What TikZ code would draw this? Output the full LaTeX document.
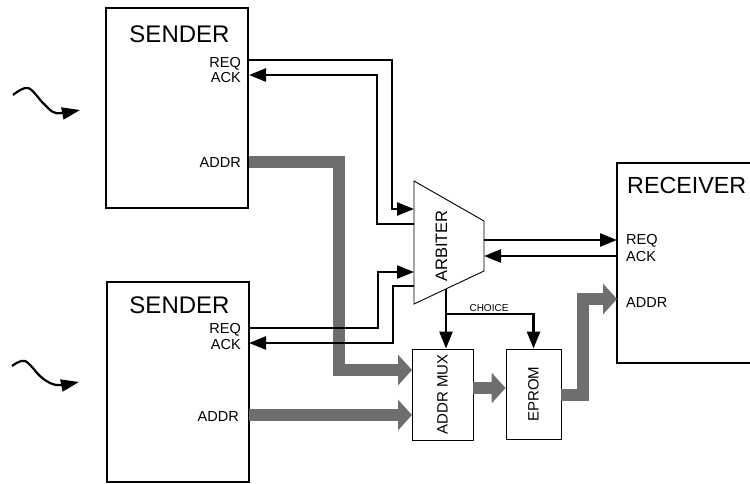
\documentclass[tikz,border=0pt]{standalone}
\usepackage{fontspec}
\setmainfont{Liberation Sans}
\usetikzlibrary{arrows.meta, positioning}

\definecolor{busgray}{RGB}{110,110,110}

\tikzset{
    blockbox/.style={draw, line width=2.4pt, minimum width=142pt, minimum height=200pt, inner sep=0pt},
    unitbox/.style={draw, line width=0.9pt, minimum width=61pt, minimum height=91pt, inner sep=0pt},
    boxtitle/.style={font=\fontsize{24}{24}\selectfont, inner sep=0pt},
    portlabel/.style={font=\fontsize{14.5}{14.5}\selectfont, inner sep=0pt},
    unitlabel/.style={font=\fontsize{15}{15}\selectfont, inner sep=0pt, rotate=90},
    sig/.style={line width=2.6pt, -{Triangle[length=17pt,width=13pt]}},
    wire/.style={line width=2.6pt},
    bus/.style={line width=12pt, draw=busgray, line join=miter, -{Triangle[length=14pt,width=30pt]}},
    wave/.style={line width=2.2pt, -{Triangle[length=18pt,width=12pt]}},
}

\begin{document}
\begin{tikzpicture}[x=1pt, y=-1pt]
    \clip (0,0) rectangle (750,483);

    % blocks
    \node[blockbox] (s1) at (177,108) {};
    \node[blockbox] (s2) at (178,382) {};
    \node[blockbox, minimum width=170pt] (rcv) at (702,263) {};
    \node[unitbox] (mux) at (442.5,394.5) {};
    \node[unitbox, minimum width=55pt, minimum height=90pt] (eprom) at (533.5,394) {};

    % arbiter
    \draw[line width=0.9pt] (414,181) -- (484,221) -- (484,271) -- (414,304) -- cycle;
    \node[font=\fontsize{16.5}{16.5}\selectfont, inner sep=0pt, rotate=90] (arb) at (441.5,246) {ARBITER};

    % labels
    \node[boxtitle, anchor=base] (s1title) at (179.5,42) {SENDER};
    \node[portlabel, anchor=base east] (s1reqlbl) at (241,67) {REQ};
    \node[portlabel, anchor=base east] (s1acklbl) at (241,82) {ACK};
    \node[portlabel, anchor=base east] (s1addrlbl) at (241,167) {ADDR};

    \node[boxtitle, anchor=base] (s2title) at (179.5,313) {SENDER};
    \node[portlabel, anchor=base east] (s2reqlbl) at (241,333) {REQ};
    \node[portlabel, anchor=base east] (s2acklbl) at (241,349) {ACK};
    \node[portlabel, anchor=base east] (s2addrlbl) at (239,421) {ADDR};

    \node[boxtitle, font=\fontsize{23.3}{24}\selectfont, anchor=base west] (rcvtitle) at (627,193) {RECEIVER};
    \node[portlabel, anchor=base west] (rcvreqlbl) at (626,244) {REQ};
    \node[portlabel, anchor=base west] (rcvacklbl) at (626,261) {ACK};
    \node[portlabel, anchor=base west] (rcvaddrlbl) at (626,307) {ADDR};

    \node[unitlabel] (muxlbl) at (mux) {ADDR MUX};
    \node[unitlabel] (epromlbl) at (eprom) {EPROM};

    % ports
    \coordinate (s1req) at (249,60);
    \coordinate (s1ack) at (249,75);
    \coordinate (s1addr) at (249,162);
    \coordinate (s2req) at (249,328);
    \coordinate (s2ack) at (249,343);
    \coordinate (s2addr) at (249,415);
    \coordinate (arbreq1) at (414,209);
    \coordinate (arback1) at (414,224);
    \coordinate (arbreq2) at (414,272);
    \coordinate (arback2) at (414,286);
    \coordinate (arbreqout) at (484,240);
    \coordinate (arbackout) at (484,256);
    \coordinate (arbsel) at (446,289);
    \coordinate (choice) at (446,314);
    \coordinate (rcvreq) at (617,240);
    \coordinate (rcvack) at (617,256);
    \coordinate (rcvaddr) at (617,299);
    \coordinate (muxin1) at (412,370);
    \coordinate (muxin2) at (412,415);

    % address buses
    \draw[bus] (s1addr) -- ++(90,0) |- (muxin1);
    \draw[bus] (s2addr) -- (muxin2);
    \draw[bus] (mux.east |- 0,388) -- (eprom.west |- 0,388);
    \draw[bus] (eprom.east |- 0,395) -- ++(22,0) |- (rcvaddr);

    % handshake
    \draw[sig] (s1req) -- ++(143,0) |- (arbreq1);
    \draw[sig] (arback1) -- ++(-37,0) |- (s1ack);
    \draw[sig] (s2req) -- ++(129,0) |- (arbreq2);
    \draw[sig] (arback2) -- ++(-21,0) |- (s2ack);
    \draw[sig] (arbreqout) -- (rcvreq);
    \draw[sig] (rcvack) -- (arbackout);

    % choice
    \draw[sig] (arbsel) -- (arbsel |- mux.north);
    \draw[sig] (choice) -| (eprom.north);
    \node[font=\fontsize{10}{10}\selectfont, inner sep=0pt, anchor=base] (choicelbl) at (489,311) {CHOICE};

    % incoming events
    \draw[wave] plot[smooth, tension=0.6] coordinates {(13,95) (28,88) (43,103) (53,112) (62,113) (80,110)};
    \draw[wave] plot[smooth, tension=0.6] coordinates {(12,366) (25,361) (40,376) (50,383) (60,385) (79,382)};
\end{tikzpicture}
\end{document}
